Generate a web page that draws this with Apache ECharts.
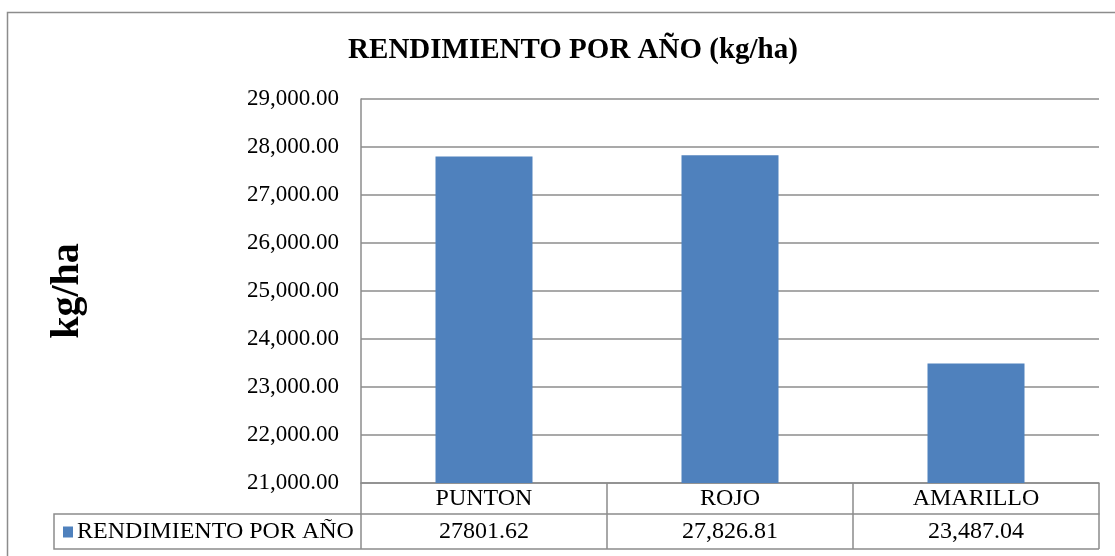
<!DOCTYPE html>
<html>
<head>
<meta charset="utf-8">
<script src="https://cdn.jsdelivr.net/npm/echarts@6/dist/echarts.min.js"></script>
<style>
html,body{margin:0;padding:0;background:#fff;}
#chart{width:1115px;height:556px;}
</style>
</head>
<body>
<div id="chart"></div>
<script>
const titleText = 'RENDIMIENTO POR AÑO (kg/ha)';
const yAxisName = 'kg/ha';
const seriesName = 'RENDIMIENTO POR AÑO';
const categories = ['PUNTON', 'ROJO', 'AMARILLO'];
const values = [27801.62, 27826.81, 23487.04];
const valueLabels = ['27801.62', '27,826.81', '23,487.04'];
const yMin = 21000;
const yMax = 29000;
const yStep = 1000;

const FONT = 'Liberation Serif';
const LINE = '#8c8c8c';
const BLUE = '#4F81BD';

const gridLeft = 361, gridRight = 16, gridTop = 99, gridBottom = 73;
const W = 1115, H = 556;
const axisY = H - gridBottom;          // 483
const row1H = 31, row2H = 35;
const tableLeft = 54;
const plotRight = W - gridRight;

const chart = echarts.init(document.getElementById('chart'), null, {renderer: 'canvas'});
chart.setOption({
  backgroundColor: '#fff',
  animation: false,
  title: {
    text: titleText,
    left: 568,
    textAlign: 'center',
    top: 31,
    textStyle: {fontFamily: FONT, fontWeight: 'bold', fontSize: 29, color: '#000'}
  },
  legend: {
    data: [seriesName],
    left: 63,
    top: axisY + row1H + 6,
    padding: 0,
    icon: 'rect',
    itemWidth: 10,
    itemHeight: 11,
    textStyle: {fontFamily: FONT, fontSize: 24, color: '#000', padding: [0, 0, 0, -1]}
  },
  grid: {left: gridLeft, right: gridRight, top: gridTop, bottom: gridBottom, containLabel: false},
  xAxis: [{
    type: 'category',
    data: categories,
    position: 'bottom',
    axisLine: {show: true, lineStyle: {color: LINE, width: 1.5}},
    axisTick: {show: true, alignWithLabel: false, length: row1H + row2H, lineStyle: {color: LINE, width: 1.5}},
    axisLabel: {interval: 0, margin: 4, fontFamily: FONT, fontSize: 24, color: '#000', lineHeight: 24},
    splitLine: {show: false}
  }, {
    type: 'category',
    data: categories,
    position: 'bottom',
    offset: row1H,
    axisLine: {show: true, lineStyle: {color: LINE, width: 1.5}},
    axisTick: {show: false},
    axisLabel: {interval: 0, margin: 6, fontFamily: FONT, fontSize: 24, color: '#000', lineHeight: 24,
      formatter: (v, i) => valueLabels[i]},
    splitLine: {show: false}
  }],
  yAxis: {
    type: 'value',
    min: yMin,
    max: yMax,
    interval: yStep,
    name: yAxisName,
    nameLocation: 'middle',
    nameGap: 273,
    nameTextStyle: {fontFamily: FONT, fontWeight: 'bold', fontSize: 40, color: '#000'},
    axisLine: {show: true, lineStyle: {color: LINE, width: 1.5}},
    axisTick: {show: false},
    axisLabel: {margin: 22, fontFamily: FONT, fontSize: 23, color: '#000',
      formatter: v => v.toLocaleString('en-US', {minimumFractionDigits: 2, maximumFractionDigits: 2})},
    splitLine: {show: true, lineStyle: {color: LINE, width: 1.5}}
  },
  graphic: [{
    type: 'rect',
    silent: true,
    shape: {x: 7.5, y: 12.5, width: 1400, height: 900},
    style: {fill: 'none', stroke: LINE, lineWidth: 1.5}
  }, {
    type: 'polyline',
    silent: true,
    shape: {points: [[gridLeft, axisY + row1H], [tableLeft, axisY + row1H], [tableLeft, axisY + row1H + row2H], [plotRight, axisY + row1H + row2H]]},
    style: {fill: 'none', stroke: LINE, lineWidth: 1.5}
  }],
  series: [{
    name: seriesName,
    type: 'bar',
    xAxisIndex: 0,
    data: values,
    barWidth: 97,
    itemStyle: {color: BLUE},
    label: {show: false}
  }]
});
</script>
</body>
</html>
